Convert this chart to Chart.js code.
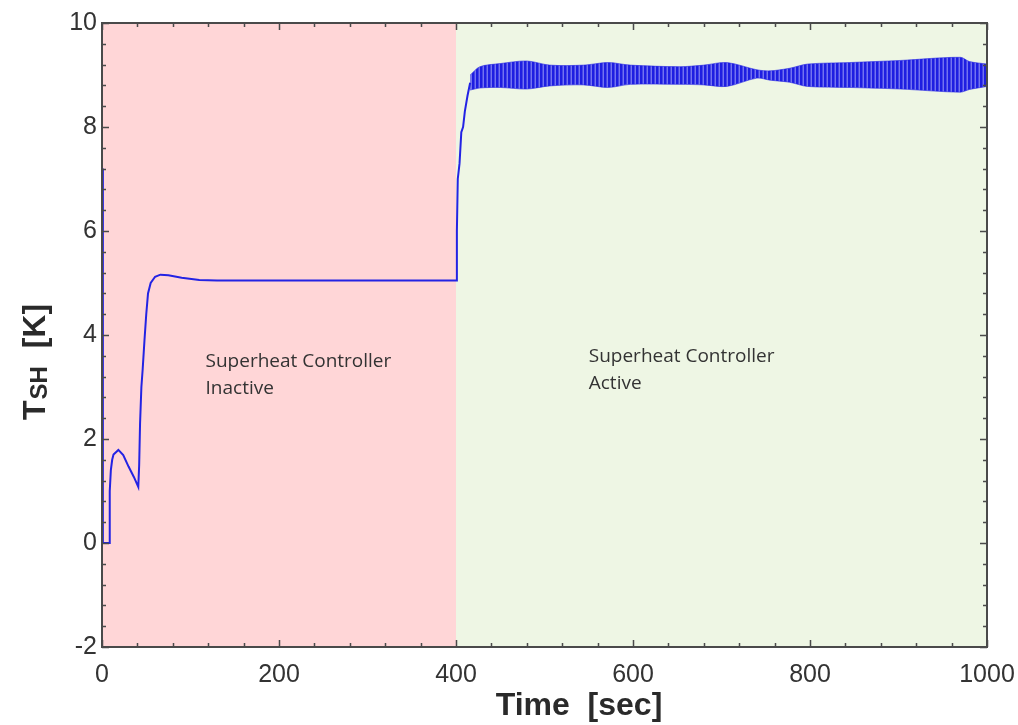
<!DOCTYPE html>
<html lang="en">
<head>
<meta charset="UTF-8">
<title>Superheat response</title>
<style>
  html, body { margin:0; padding:0; background:#fff; }
  #wrap { width:1018px; height:725px; }
</style>
</head>
<body>
<div id="wrap"><canvas id="chart" width="1018" height="725"></canvas></div>

<script src="https://cdn.jsdelivr.net/npm/chart.js"></script>
<script>
  // startup + step response, controller off until 400 s
  const startTime  = [0, 1, 8, 8.5, 9, 10, 11.5, 13, 18.5, 24, 30, 36, 41, 42, 43, 44.5, 46, 48, 50, 52, 55, 60, 66, 75, 90, 110, 130,
                      400, 401, 402, 404, 406, 408, 410, 413, 416];
  const startValue = [7.2, 0, 0, 0.6, 1.0, 1.4, 1.6, 1.7, 1.79, 1.69, 1.47, 1.27, 1.08, 1.5, 2.3, 3.0, 3.35, 3.9, 4.4, 4.8, 5.0, 5.12, 5.16, 5.15, 5.1, 5.06, 5.05,
                      5.05, 6.0, 7.0, 7.3, 7.9, 8.0, 8.3, 8.6, 8.85];

  // oscillation envelope once the controller is active
  const bandTime  = [416, 427, 450, 480, 506, 544, 572, 597, 653, 680, 706, 740, 755, 777, 797, 845, 902, 970, 980, 1000];
  const bandUpper = [9.0, 9.16, 9.22, 9.27, 9.19, 9.19, 9.24, 9.19, 9.16, 9.19, 9.24, 9.10, 9.08, 9.13, 9.21, 9.24, 9.28, 9.34, 9.26, 9.21];
  const bandLower = [8.71, 8.75, 8.76, 8.73, 8.79, 8.81, 8.76, 8.82, 8.82, 8.81, 8.78, 8.94, 8.90, 8.86, 8.78, 8.76, 8.73, 8.67, 8.72, 8.78];

  // shaded phases
  const regionBounds = [0, 400, 1000];
  const regionColors = ['rgb(255,214,215)', 'rgb(238,246,228)'];

  const xTicksMajor = 200, xTicksMinor = 40;
  const yTicksMajor = 2,   yTicksMinor = 0.4;

  const canvas = document.getElementById('chart');
  const ctx = canvas.getContext('2d');

  // vertical stripes for the fast oscillation band
  const stripe = document.createElement('canvas');
  stripe.width = 4; stripe.height = 1;
  const sctx = stripe.getContext('2d');
  sctx.fillStyle = 'rgb(30,30,225)'; sctx.fillRect(0, 0, 4, 1);
  sctx.fillStyle = 'rgb(70,70,232)'; sctx.fillRect(2, 0, 1, 1);
  sctx.fillStyle = 'rgb(115,115,240)'; sctx.fillRect(3, 0, 1, 1);
  const bandFill = ctx.createPattern(stripe, 'repeat');

  const toPts = (xs, ys) => xs.map((t, i) => ({ x: t, y: ys[i] }));

  const isMajor = (v, step) => Math.abs(v / step - Math.round(v / step)) < 1e-6;

  const notes = [
    { lines: ['Superheat Controller', 'Inactive'], t: 117, v: 3.39 },
    { lines: ['Superheat Controller', 'Active'],   t: 550, v: 3.48 }
  ];

  const decor = {
    id: 'decor',
    beforeDatasetsDraw(chart) {
      const { ctx, chartArea: a, scales: { x } } = chart;
      for (let i = 0; i < regionColors.length; i++) {
        const x0 = x.getPixelForValue(regionBounds[i]);
        const x1 = x.getPixelForValue(regionBounds[i + 1]);
        ctx.fillStyle = regionColors[i];
        ctx.fillRect(x0, a.top, x1 - x0, a.bottom - a.top);
      }
    },
    afterDatasetsDraw(chart) {
      const { ctx, chartArea: a, scales: { x, y } } = chart;
      ctx.save();

      // annotations
      ctx.fillStyle = '#333';
      ctx.font = '19px "Open Sans"';
      ctx.textAlign = 'left';
      ctx.textBaseline = 'alphabetic';
      notes.forEach(n => {
        const px = x.getPixelForValue(n.t), py = y.getPixelForValue(n.v);
        n.lines.forEach((s, i) => ctx.fillText(s, px, py + i * 27));
      });

      // frame
      ctx.strokeStyle = '#4a4a4a';
      ctx.lineWidth = 2;
      ctx.strokeRect(a.left, a.top, a.right - a.left, a.bottom - a.top);

      // inward ticks on all four sides
      ctx.lineWidth = 1.5;
      ctx.beginPath();
      x.ticks.forEach(t => {
        const px = Math.round(x.getPixelForValue(t.value)) + 0.5;
        const len = t.label !== '' ? 7 : 4;
        ctx.moveTo(px, a.bottom); ctx.lineTo(px, a.bottom - len);
        ctx.moveTo(px, a.top);    ctx.lineTo(px, a.top + len);
      });
      y.ticks.forEach(t => {
        const py = Math.round(y.getPixelForValue(t.value)) + 0.5;
        const len = t.label !== '' ? 7 : 4;
        ctx.moveTo(a.left, py);  ctx.lineTo(a.left + len, py);
        ctx.moveTo(a.right, py); ctx.lineTo(a.right - len, py);
      });
      ctx.stroke();

      // axis titles
      ctx.fillStyle = '#2a2a2a';
      ctx.font = 'bold 32px "Liberation Sans"';
      ctx.textAlign = 'center';
      ctx.fillText('Time  [sec]', 579, 715);

      ctx.translate(45, 420);
      ctx.rotate(-Math.PI / 2);
      ctx.textAlign = 'left';
      ctx.font = 'bold 32px "Liberation Sans"';
      ctx.fillText('T', 0, 0);
      let off = ctx.measureText('T').width + 1;
      ctx.font = 'bold 24px "Liberation Sans"';
      ctx.fillText('SH', off, 2);
      off += ctx.measureText('SH').width;
      ctx.font = 'bold 32px "Liberation Sans"';
      ctx.fillText('  [K]', off, 0);
      ctx.restore();
    }
  };

  new Chart(ctx, {
    type: 'line',
    data: {
      datasets: [
        { data: toPts(startTime, startValue), borderColor: 'rgb(35,35,228)', borderWidth: 2,
          pointRadius: 0, tension: 0, fill: false },
        { data: toPts(bandTime, bandUpper), borderColor: 'rgba(40,40,228,0.6)', borderWidth: 1,
          pointRadius: 0, tension: 0.3, fill: false },
        { data: toPts(bandTime, bandLower), borderColor: 'rgba(40,40,228,0.6)', borderWidth: 1,
          pointRadius: 0, tension: 0.3, fill: '-1', backgroundColor: bandFill }
      ]
    },
    options: {
      responsive: false,
      animation: false,
      layout: { padding: { top: 23, right: 31, left: 0, bottom: 0 } },
      plugins: { legend: { display: false }, tooltip: { enabled: false } },
      scales: {
        x: {
          type: 'linear', min: 0, max: 1000,
          grid: { display: false, drawTicks: false },
          border: { display: false },
          ticks: {
            stepSize: xTicksMinor, autoSkip: false, maxRotation: 0, padding: 13,
            color: '#333', font: { family: 'Liberation Sans', size: 25 },
            callback: v => isMajor(v, xTicksMajor) ? String(Math.round(v)) : ''
          },
          afterFit(s) { s.height = 78; s.paddingLeft = 0; s.paddingRight = 0; }
        },
        y: {
          min: -2, max: 10,
          grid: { display: false, drawTicks: false },
          border: { display: false },
          ticks: {
            stepSize: yTicksMinor, autoSkip: false, padding: 5,
            color: '#333', font: { family: 'Liberation Sans', size: 25 },
            callback: v => isMajor(v, yTicksMajor) ? String(Math.round(v)) : ''
          },
          afterFit(s) { s.width = 102; s.paddingTop = 0; s.paddingBottom = 0; }
        }
      }
    },
    plugins: [decor]
  });
</script>
</body>
</html>
